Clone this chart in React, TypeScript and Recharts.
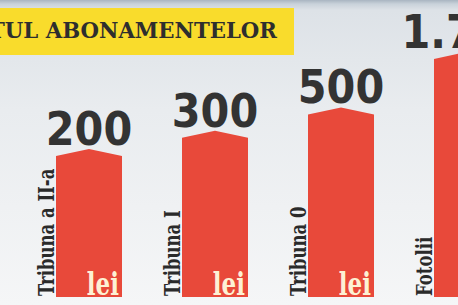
import { BarChart, Bar, XAxis, YAxis, LabelList } from "recharts";

const categories = ['Tribuna a II-a', 'Tribuna I', 'Tribuna 0', 'Fotolii'];
const prices = [200, 300, 500, 1700];
const unitLabel = 'lei';
const title = 'PREȚUL ABONAMENTELOR';

const data = categories.map((name, i) => ({ name, price: prices[i] }));

// 1700 -> "1.700"
const formatPrice = (v: number) => String(v).replace(/\B(?=(\d{3})+(?!\d))/g, '.');

const PeakBar = (props: any) => {
  const { x, y, width, height, fill } = props;
  const bottom = y + height;
  const pts = `${x},${bottom} ${x},${y} ${x + width / 2},${y - 7} ${x + width},${y} ${x + width},${bottom}`;
  return <polygon points={pts} fill={fill} />;
};

// slab serif squeezed along the text direction
const NameLabel = (props: any) => {
  const { x, y, height, value } = props;
  return (
    <text
      transform={`translate(${x - 2},${y + height - 1}) rotate(-90) scale(0.75,1)`}
      fill="#2a2a2a"
      fontFamily="DejaVu Serif"
      fontWeight="bold"
      fontSize={22}
    >
      {value}
    </text>
  );
};

const PriceLabel = (props: any) => {
  const { x, y, width, value } = props;
  return (
    <text
      x={x + width / 2}
      y={y - 11}
      textAnchor="middle"
      fill="#333333"
      fontFamily="DejaVu Sans"
      fontWeight="bold"
      fontStretch="condensed"
      fontSize={46}
    >
      {formatPrice(value)}
    </text>
  );
};

const UnitLabel = (props: any) => {
  const { x, y, width, height } = props;
  return (
    <text
      transform={`translate(${x + width - 3},${y + height - 2}) scale(0.72,1)`}
      textAnchor="end"
      fill="#fdf1d4"
      fontFamily="DejaVu Serif"
      fontWeight="bold"
      fontSize={32}
    >
      {unitLabel}
    </text>
  );
};

export default function App() {
  return (
    <div
      style={{
        position: 'fixed',
        left: 0,
        top: 0,
        width: 458,
        height: 305,
        overflow: 'hidden',
        background: 'linear-gradient(to bottom, #a9b5c1 0px, #c9d2da 4px, #dde2e7 10px, #e9ecef 110px, #f5f6f7 305px)',
      }}
    >
      <div
        style={{
          position: 'absolute',
          left: 0,
          top: 8,
          width: 294,
          height: 47,
          background: '#f9dc2c',
          overflow: 'hidden',
        }}
      >
        <span
          style={{
            position: 'absolute',
            right: 17,
            top: 9,
            whiteSpace: 'nowrap',
            fontFamily: 'DejaVu Serif',
            fontWeight: 'bold',
            fontSize: 22,
            lineHeight: '26px',
            color: '#2e2e2e',
            transform: 'scaleX(0.965)',
            transformOrigin: 'right center',
          }}
        >
          {title}
        </span>
      </div>
      <div style={{ position: 'absolute', left: 0, top: 0 }}>
        <BarChart
          width={530}
          height={305}
          data={data}
          margin={{ top: 20, right: 0, bottom: 8, left: 26 }}
        >
          <XAxis dataKey="name" hide />
          <YAxis type="number" scale="log" domain={[9, 4000]} allowDataOverflow hide />
          <Bar dataKey="price" fill="#e8493a" barSize={66} shape={PeakBar} isAnimationActive={false}>
            <LabelList dataKey="name" content={NameLabel} />
            <LabelList dataKey="price" content={PriceLabel} />
            <LabelList dataKey="price" content={UnitLabel} />
          </Bar>
        </BarChart>
      </div>
    </div>
  );
}
